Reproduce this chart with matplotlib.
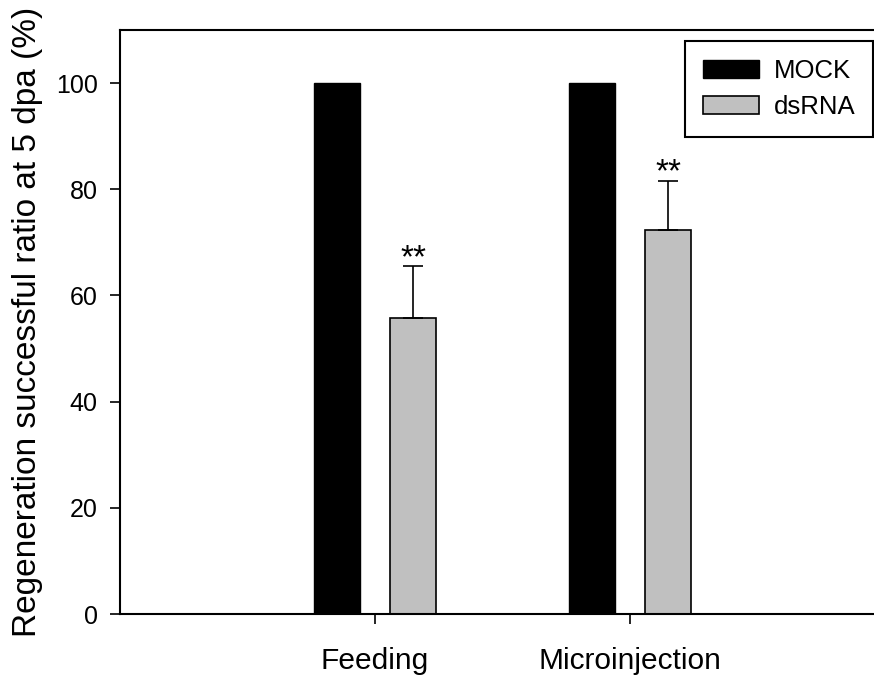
import matplotlib
matplotlib.use("Agg")
import matplotlib.pyplot as plt
import numpy as np

plt.rcParams['font.family'] = ['Liberation Sans', 'DejaVu Sans']

categories = ["Feeding", "Microinjection"]
mock_values = [100, 100]
dsrna_values = [55.7, 72.3]
dsrna_err = [9.8, 9.3]
sig_labels = ["**", "**"]
yticks = [0, 20, 40, 60, 80, 100]

fig = plt.figure(figsize=(8.74, 6.8), dpi=100)
ax = fig.add_axes([120/874, 66/680, 765/874, 584/680])

x = np.arange(1, len(categories) + 1)
w = 0.184
off = 0.149
ax.bar(x - off, mock_values, w, color='black', edgecolor='black', linewidth=1.0, label='MOCK')
ax.bar(x + off, dsrna_values, w, color='#c0c0c0', edgecolor='black', linewidth=1.2, label='dsRNA')
ax.errorbar(x + off, dsrna_values, yerr=[np.zeros(len(dsrna_err)), dsrna_err],
            fmt='none', ecolor='black', elinewidth=1.2, capsize=7, capthick=1.2)
for xi, v, e, s in zip(x + off, dsrna_values, dsrna_err, sig_labels):
    ax.text(xi, v + e - 1.5, s, ha='center', va='bottom', fontsize=24)

ax.set_xlim(0, 3)
ax.set_ylim(0, 110)
ax.set_xticks(x)
ax.set_xticklabels(categories, fontsize=21.5)
ax.set_yticks(yticks)
ax.set_yticklabels([str(t) for t in yticks], fontsize=18)
ax.tick_params(direction='out', length=7, width=1.2, pad=9)
ax.tick_params(axis='x', pad=17)
for sp in ax.spines.values():
    sp.set_linewidth(1.5)
ax.spines['right'].set_visible(False)
ax.set_ylabel('Regeneration successful ratio at 5 dpa (%)', fontsize=24, labelpad=9)

leg = ax.legend(loc='upper right', bbox_to_anchor=(873/874, (680-41)/680),
                bbox_transform=fig.transFigure, borderaxespad=0, fontsize=18.5,
                fancybox=False, framealpha=1, edgecolor='black',
                handlelength=2.2, handleheight=0.7, labelspacing=0.45,
                borderpad=0.7, handletextpad=0.55)
leg.get_frame().set_linewidth(1.5)

fig.savefig('out.png', dpi=100)
